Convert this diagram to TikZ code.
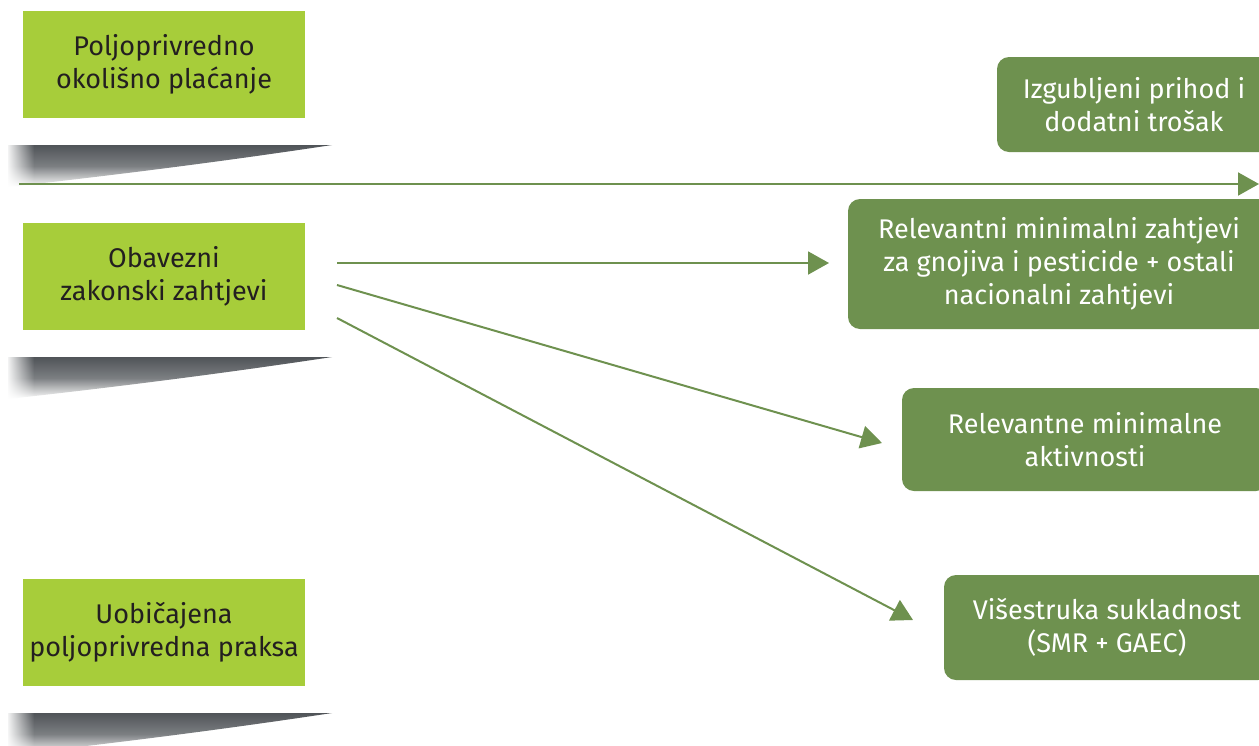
\documentclass[tikz,border=0pt]{standalone}
\usepackage{fontspec}
\setmainfont{Fira Sans}
\usetikzlibrary{arrows.meta,fadings}

\definecolor{limegreen}{HTML}{A7CD3A}
\definecolor{olivegreen}{HTML}{6E914F}
\definecolor{shadowgray}{HTML}{505458}
\definecolor{textdark}{HTML}{231F20}

\tikzfading[name=fadeleft, left color=transparent!0, right color=transparent!100]

\tikzset{
  lightbox/.style={fill=limegreen, text=textdark, minimum width=282pt,
    minimum height=107pt, align=center, font=\fontsize{27}{33}\selectfont},
  darkbox/.style={fill=olivegreen, text=white, rounded corners=12pt,
    align=center, font=\fontsize{27}{33}\selectfont},
  link/.style={draw=olivegreen, line width=2pt,
    -{Triangle[length=21pt,width=23pt]}},
}

\newcommand{\wedgeshadow}[1]{%
  \shade[top color=shadowgray, bottom color=white, middle color=shadowgray!75]
    (8,#1) -- (332,#1) .. controls (200,#1+20) and (80,#1+34) .. (8,#1+42) -- cycle;
  \fill[white, path fading=fadeleft] (6,#1-2) rectangle (34,#1+44);
}

\begin{document}
\begin{tikzpicture}[x=1pt, y=-1pt]
  \useasboundingbox (0,0) rectangle (1259,745);
  \clip (0,0) rectangle (1259,745);

  % left column
  \node[lightbox] (payment) at (164,64.5) {Poljoprivredno\\okolišno plaćanje};
  \node[lightbox] (legal)   at (164,276)  {Obavezni\\zakonski zahtjevi};
  \node[lightbox] (usual)   at (164,632.5) {Uobičajena\\poljoprivredna praksa};

  \wedgeshadow{145}
  \wedgeshadow{357}
  \wedgeshadow{713}

  % right column
  \node[darkbox, minimum width=274pt, minimum height=95pt]  (income)  at (1134,104.5) {Izgubljeni prihod i\\dodatni trošak};
  \node[darkbox, minimum width=422pt, minimum height=130pt] (minreq)  at (1059,264)   {Relevantni minimalni zahtjevi\\za gnojiva i pesticide + ostali\\nacionalni zahtjevi};
  \node[darkbox, minimum width=366pt, minimum height=103pt] (minact)  at (1085,439.5) {Relevantne minimalne\\aktivnosti};
  \node[darkbox, minimum width=326pt, minimum height=105pt] (cross)   at (1107,627.5) {Višestruka sukladnost\\(SMR + GAEC)};

  \coordinate (axisL) at (19,184);
  \coordinate (axisR) at (1259,184);
  \coordinate (outA) at (337,263);
  \coordinate (outB) at (337,285);
  \coordinate (outC) at (337,318);
  \coordinate (inA) at (829,263);
  \coordinate (inB) at (882,443);
  \coordinate (inC) at (913,620);

  \draw[link] (axisL) -- (axisR);
  \draw[link] (outA) -- (inA);
  \draw[link] (outB) -- (inB);
  \draw[link] (outC) -- (inC);
\end{tikzpicture}
\end{document}
